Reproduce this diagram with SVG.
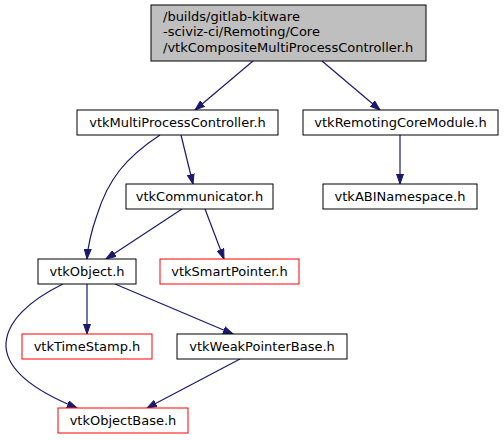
<svg xmlns="http://www.w3.org/2000/svg" width="504" height="440" viewBox="0 0 504 440">
<style>
.n{fill:#fff;stroke:#000;stroke-width:1}
.r{fill:#fff;stroke:#ff0000;stroke-width:1}
.root{fill:#bfbfbf;stroke:#000;stroke-width:1}
text{font-family:"DejaVu Sans",sans-serif;font-size:13px;fill:#000}
.c{text-anchor:middle}
.e{fill:none;stroke:#191970;stroke-width:1.2}
</style>
<defs>
<marker id="a" markerWidth="11" markerHeight="8" refX="10" refY="4" orient="auto" markerUnits="userSpaceOnUse">
<path d="M0,0.5 L10,4 L0,7.5 Z" fill="#191970" stroke="#191970"/>
</marker>
</defs>
<g id="edges">
<path class="e" marker-end="url(#a)" d="M253,61 L195,110"/>
<path class="e" marker-end="url(#a)" d="M322,61 L380,110"/>
<path class="e" marker-end="url(#a)" d="M181,135 L193,184"/>
<path class="e" marker-end="url(#a)" d="M160,135 C125,158 108,180 97,215 C91,232 88,245 87,259"/>
<path class="e" marker-end="url(#a)" d="M400,135 L400,184"/>
<path class="e" marker-end="url(#a)" d="M182,209 L106,259"/>
<path class="e" marker-end="url(#a)" d="M205,209 L224,259"/>
<path class="e" marker-end="url(#a)" d="M87,284 L87,334"/>
<path class="e" marker-end="url(#a)" d="M115,284 L233,334"/>
<path class="e" marker-end="url(#a)" d="M63,284 C30,300 5,322 6,347 C8,375 45,395 77,408"/>
<path class="e" marker-end="url(#a)" d="M240,359 L147,408"/>
</g>
<g id="root">
<rect class="root" x="151" y="5" width="275" height="56"/>
<text x="163" y="20.5">/builds/gitlab-kitware</text>
<text x="163" y="36">-sciviz-ci/Remoting/Core</text>
<text x="163" y="51.5">/vtkCompositeMultiProcessController.h</text>
</g>
<g id="mpc">
<rect class="n" x="77" y="110" width="201" height="25"/>
<text class="c" x="177.5" y="127">vtkMultiProcessController.h</text>
</g>
<g id="rcm">
<rect class="n" x="303" y="110" width="195" height="25"/>
<text class="c" x="400.5" y="127">vtkRemotingCoreModule.h</text>
</g>
<g id="comm">
<rect class="n" x="126" y="184" width="147" height="25"/>
<text class="c" x="199.5" y="201">vtkCommunicator.h</text>
</g>
<g id="abi">
<rect class="n" x="323" y="184" width="154" height="25"/>
<text class="c" x="400" y="201">vtkABINamespace.h</text>
</g>
<g id="obj">
<rect class="n" x="38" y="259" width="98" height="25"/>
<text class="c" x="87" y="276">vtkObject.h</text>
</g>
<g id="sp">
<rect class="r" x="160" y="259" width="139" height="25"/>
<text class="c" x="229.5" y="276">vtkSmartPointer.h</text>
</g>
<g id="ts">
<rect class="r" x="22" y="334" width="130" height="25"/>
<text class="c" x="87" y="351">vtkTimeStamp.h</text>
</g>
<g id="wpb">
<rect class="n" x="177" y="334" width="170" height="25"/>
<text class="c" x="262" y="351">vtkWeakPointerBase.h</text>
</g>
<g id="ob">
<rect class="r" x="58" y="408" width="130" height="25"/>
<text class="c" x="123" y="425">vtkObjectBase.h</text>
</g>
</svg>
